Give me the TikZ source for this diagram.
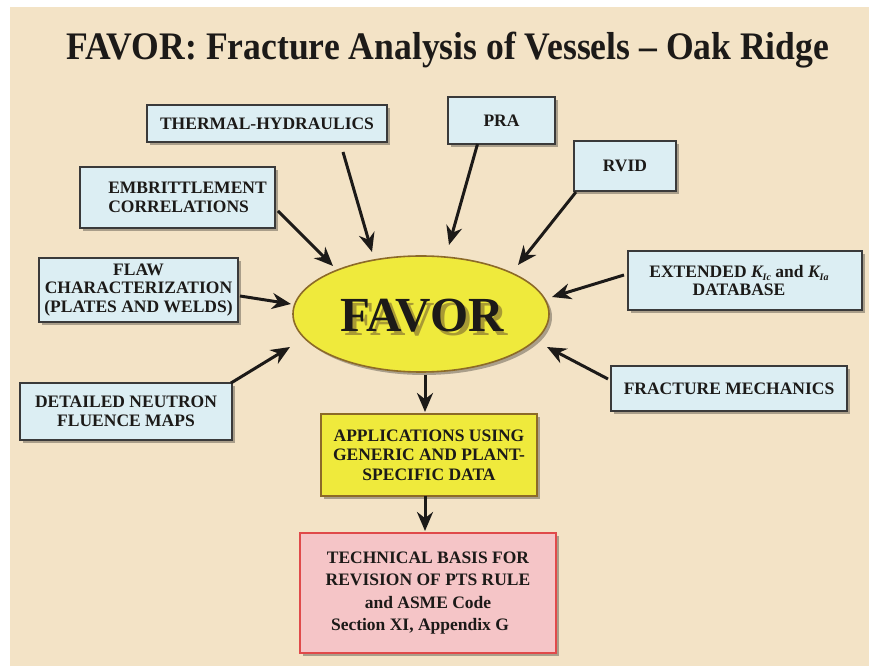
\documentclass[tikz,border=0pt]{standalone}
\usepackage{fontspec}
\usepackage{graphicx}
\setmainfont{Liberation Serif}
\usetikzlibrary{arrows.meta,shapes.geometric,shadows}
\definecolor{bg}{HTML}{F3E3C6}
\definecolor{boxblue}{HTML}{DCEEF3}
\definecolor{boxline}{HTML}{3A3A3A}
\definecolor{favyel}{HTML}{EFEA3C}
\definecolor{favline}{HTML}{8C6A28}
\definecolor{favshade}{HTML}{A89A34}
\definecolor{techfill}{HTML}{F5C5C7}
\definecolor{techline}{HTML}{E04A4A}
\definecolor{ink}{HTML}{1C1A18}
\newcommand{\Ksub}[1]{{\itshape K}\raisebox{-0.35ex}{\fontsize{10}{10}\selectfont\itshape #1}}
\begin{document}
\begin{tikzpicture}[x=1pt,y=1pt,
  shadowed/.style={drop shadow={shadow xshift=3pt,shadow yshift=-3pt,fill=black,opacity=0.3}},
  basebox/.style={line width=1.4pt,shadowed,text=ink,align=center,inner sep=0pt,outer sep=0pt},
  bluebox/.style={basebox,draw=boxline,fill=boxblue,font=\bfseries\fontsize{17.5}{18.5}\selectfont},
  arr/.style={draw=ink,line width=3pt,-{Stealth[length=19pt,width=16pt]}},
]
\useasboundingbox (0,0) rectangle (869,666);
\fill[white] (0,0) rectangle (869,666);
\fill[bg] (10,0) rectangle (869,659);

\node[anchor=base,text=ink,font=\bfseries\fontsize{39}{40}\selectfont,inner sep=0pt] (title) at (448,606)
  {\scalebox{0.913}[1]{FAVOR: Fracture Analysis of Vessels – Oak Ridge}};

% input boxes
\node[bluebox,minimum width=240pt,minimum height=37pt] (th) at (267,542.5) {THERMAL-HYDRAULICS};
\node[bluebox,minimum width=107pt,minimum height=47pt] (pra) at (501.5,545.5) {PRA};
\node[bluebox,minimum width=102pt,minimum height=50pt] (rvid) at (625,500) {RVID};
\node[bluebox,minimum width=195pt,minimum height=61pt,align=left] (emb) at (177.5,468.5) {\hspace*{20pt}EMBRITTLEMENT\\\hspace*{20pt}CORRELATIONS};
\node[bluebox,minimum width=199pt,minimum height=64pt] (flaw) at (138.5,376) {FLAW\\CHARACTERIZATION\\(PLATES AND WELDS)};
\node[bluebox,minimum width=234pt,minimum height=59pt] (ext) at (745,385.5) {EXTENDED \Ksub{Ic} and \Ksub{Ia}\hspace*{12pt}\\DATABASE\hspace*{12pt}};
\node[bluebox,minimum width=212pt,minimum height=57pt] (det) at (126,254.5) {DETAILED NEUTRON\\FLUENCE MAPS};
\node[bluebox,minimum width=236pt,minimum height=45pt] (frac) at (729,277.5) {FRACTURE MECHANICS};

% central ellipse
\node[ellipse,minimum width=256pt,minimum height=116pt,fill=favyel,draw=favline,line width=1.6pt,shadowed,inner sep=0pt,outer sep=0pt] (fav) at (421,352) {};
\node[text=favshade,font=\bfseries\fontsize{49}{50}\selectfont,inner sep=0pt] (favsh) at ([xshift=5pt,yshift=-6pt]fav.center) {FAVOR};
\node[text=ink,font=\bfseries\fontsize{49}{50}\selectfont,inner sep=0pt] (favtxt) at ([xshift=1pt,yshift=-2pt]fav.center) {FAVOR};

% outputs
\node[basebox,draw=favline,fill=favyel,line width=1.8pt,minimum width=216pt,minimum height=82pt,font=\bfseries\fontsize{17.5}{19.5}\selectfont] (appl) at (429,211) {APPLICATIONS USING\\GENERIC AND PLANT-\\SPECIFIC DATA};
\node[basebox,draw=techline,fill=techfill,line width=1.8pt,minimum width=256pt,minimum height=120pt,font=\bfseries\fontsize{17.5}{22.5}\selectfont] (tech) at (428,73) {TECHNICAL BASIS FOR\\REVISION OF PTS RULE\\and ASME Code\hspace*{16pt}\\Section XI, Appendix G\hspace*{16pt}};

% connectors
\draw[arr] ([xshift=76pt,yshift=-10pt]th.south) -- ([xshift=-49pt,yshift=62pt]fav.center);
\draw[arr] ([xshift=-24pt]pra.south) -- ([xshift=28pt,yshift=69pt]fav.center);
\draw[arr] ([xshift=2pt,yshift=-1pt]rvid.south west) -- ([xshift=97pt,yshift=49pt]fav.center);
\draw[arr] ([xshift=3pt,yshift=-13.5pt]emb.east) -- ([xshift=-88pt,yshift=48pt]fav.center);
\draw[arr] ([xshift=2pt,yshift=-6pt]flaw.east) -- ([xshift=-130pt,yshift=10pt]fav.center);
\draw[arr] ([xshift=-4pt,yshift=5.5pt]ext.west) -- ([xshift=131pt,yshift=17pt]fav.center);
\draw[arr] ([xshift=-1pt]det.north east) -- ([xshift=-131pt,yshift=-33pt]fav.center);
\draw[arr] ([xshift=-3pt,yshift=9.5pt]frac.west) -- ([xshift=126pt,yshift=-33pt]fav.center);
\draw[arr] ([xshift=4pt,yshift=-3pt]fav.south) -- ([xshift=-4pt,yshift=2pt]appl.north);
\draw[arr] ([xshift=-4pt]appl.south) -- ([xshift=-3pt,yshift=2pt]tech.north);
\end{tikzpicture}
\end{document}
